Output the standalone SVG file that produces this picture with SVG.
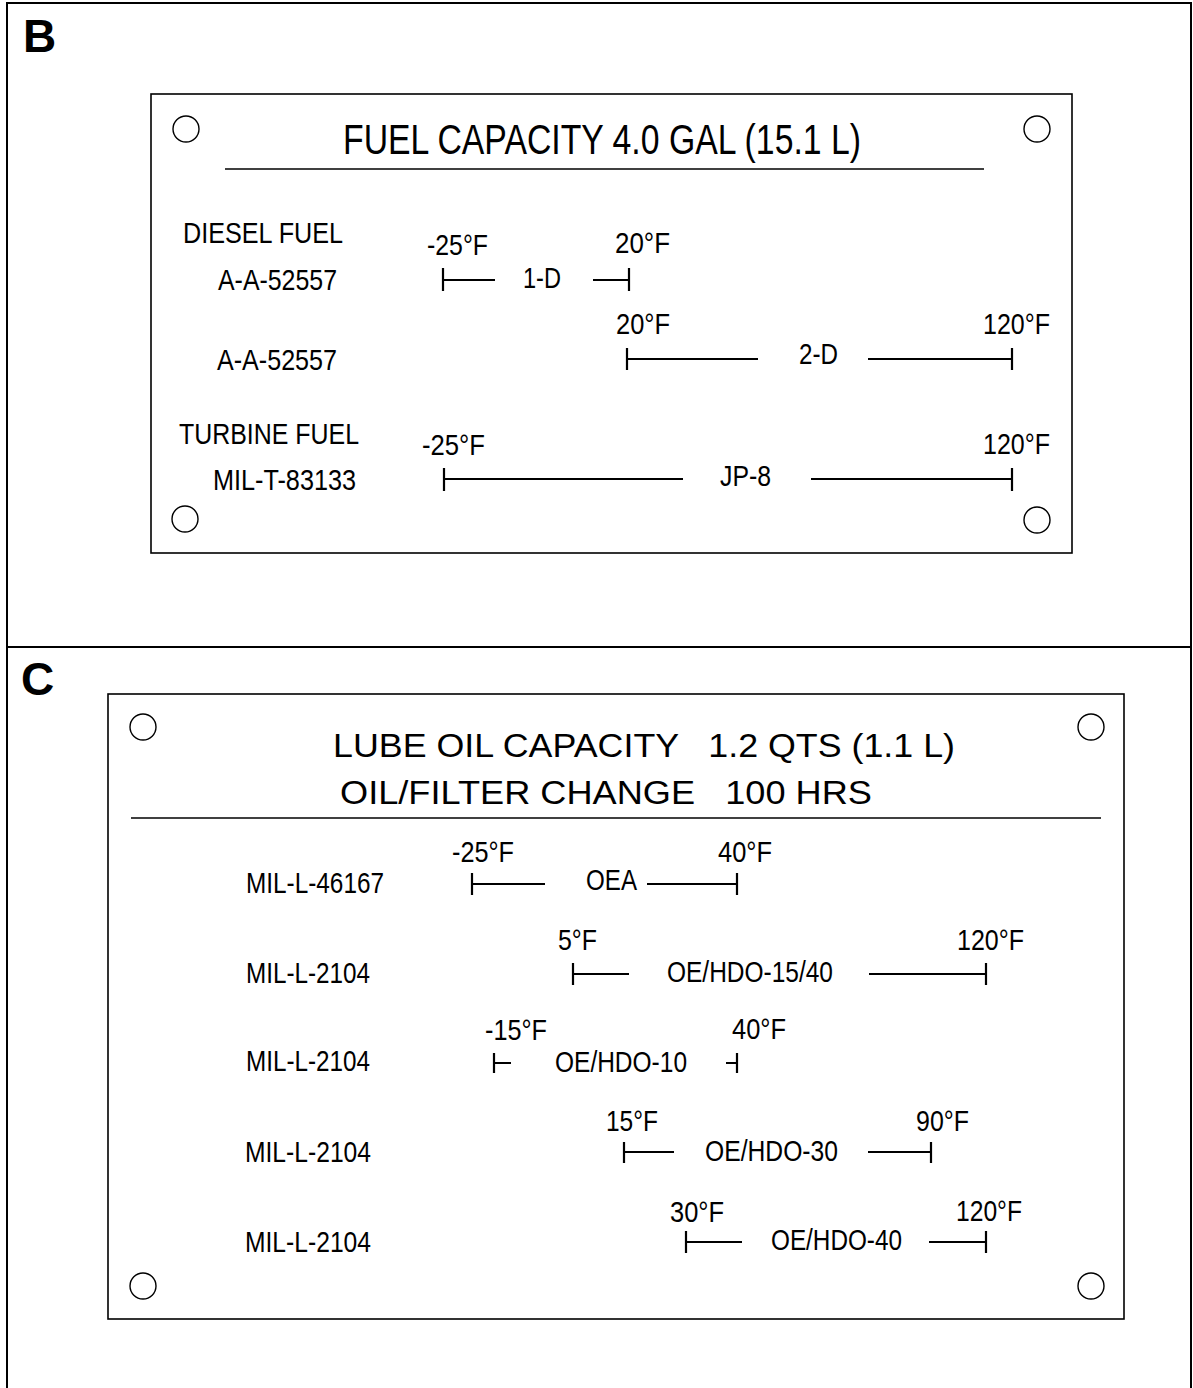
<svg xmlns="http://www.w3.org/2000/svg" width="1193" height="1388" viewBox="0 0 1193 1388">
<style>
text{font-family:"Liberation Sans",Arial,sans-serif;fill:#000;}
.lbl{font-size:29.5px;}
.ttl{font-size:43px;}
.ttl2{font-size:34px;}
.panel{font-size:46px;font-weight:bold;}
.frame{fill:none;stroke:#000;stroke-width:2;}
.plate{fill:#fff;stroke:#000;stroke-width:1.6;}
.hole{fill:none;stroke:#000;stroke-width:1.4;}
.rule{stroke:#000;stroke-width:1.5;}
.bar{stroke:#000;stroke-width:2.2;fill:none;}
</style>
<rect width="1193" height="1388" fill="#fff"/>
<g id="frame">
<path class="frame" d="M7,1388 V3 H1191 V1388"/>
<line class="frame" x1="7" y1="647" x2="1191" y2="647"/>
<text class="panel" x="23" y="52">B</text>
<text class="panel" x="21" y="695">C</text>
</g>
<g id="plate-B">
<rect class="plate" x="151" y="94" width="921" height="459"/>
<circle class="hole" cx="186" cy="129" r="13"/>
<circle class="hole" cx="1037" cy="129" r="13"/>
<circle class="hole" cx="185" cy="519" r="13"/>
<circle class="hole" cx="1037" cy="520" r="13"/>
<text class="ttl" x="343" y="154" textLength="518" lengthAdjust="spacingAndGlyphs">FUEL CAPACITY 4.0 GAL (15.1 L)</text>
<line class="rule" x1="225" y1="169" x2="984" y2="169"/>
<g id="row-1D">
<text class="lbl" x="183" y="243" textLength="160" lengthAdjust="spacingAndGlyphs">DIESEL FUEL</text>
<text class="lbl" x="218" y="290" textLength="119" lengthAdjust="spacingAndGlyphs">A-A-52557</text>
<text class="lbl" x="427" y="255" textLength="61" lengthAdjust="spacingAndGlyphs">-25°F</text>
<text class="lbl" x="615" y="253" textLength="55" lengthAdjust="spacingAndGlyphs">20°F</text>
<text class="lbl" x="523" y="288" textLength="38" lengthAdjust="spacingAndGlyphs">1-D</text>
</g>
<g id="row-2D">
<text class="lbl" x="217" y="370" textLength="120" lengthAdjust="spacingAndGlyphs">A-A-52557</text>
<text class="lbl" x="616" y="334" textLength="54" lengthAdjust="spacingAndGlyphs">20°F</text>
<text class="lbl" x="983" y="334" textLength="67" lengthAdjust="spacingAndGlyphs">120°F</text>
<text class="lbl" x="799" y="364" textLength="39" lengthAdjust="spacingAndGlyphs">2-D</text>
</g>
<g id="row-JP8">
<text class="lbl" x="179" y="444" textLength="180" lengthAdjust="spacingAndGlyphs">TURBINE FUEL</text>
<text class="lbl" x="213" y="490" textLength="143" lengthAdjust="spacingAndGlyphs">MIL-T-83133</text>
<text class="lbl" x="422" y="455" textLength="63" lengthAdjust="spacingAndGlyphs">-25°F</text>
<text class="lbl" x="983" y="454" textLength="67" lengthAdjust="spacingAndGlyphs">120°F</text>
<text class="lbl" x="720" y="486" textLength="51" lengthAdjust="spacingAndGlyphs">JP-8</text>
</g>
</g>
<g id="plate-C">
<rect class="plate" x="108" y="694" width="1016" height="625"/>
<circle class="hole" cx="143" cy="727" r="13"/>
<circle class="hole" cx="1091" cy="727" r="13"/>
<circle class="hole" cx="143" cy="1286" r="13"/>
<circle class="hole" cx="1091" cy="1286" r="13"/>
<text class="ttl2" x="333" y="757" textLength="622" lengthAdjust="spacingAndGlyphs" xml:space="preserve">LUBE OIL CAPACITY   1.2 QTS (1.1 L)</text>
<text class="ttl2" x="340" y="804" textLength="532" lengthAdjust="spacingAndGlyphs" xml:space="preserve">OIL/FILTER CHANGE   100 HRS</text>
<line class="rule" x1="131" y1="818" x2="1101" y2="818"/>
<g id="row-OEA">
<text class="lbl" x="246" y="893" textLength="138" lengthAdjust="spacingAndGlyphs">MIL-L-46167</text>
<text class="lbl" x="452" y="862" textLength="62" lengthAdjust="spacingAndGlyphs">-25°F</text>
<text class="lbl" x="586" y="890" textLength="51" lengthAdjust="spacingAndGlyphs">OEA</text>
<text class="lbl" x="718" y="862" textLength="54" lengthAdjust="spacingAndGlyphs">40°F</text>
</g>
<g id="row-1540">
<text class="lbl" x="246" y="983" textLength="124" lengthAdjust="spacingAndGlyphs">MIL-L-2104</text>
<text class="lbl" x="558" y="950" textLength="39" lengthAdjust="spacingAndGlyphs">5°F</text>
<text class="lbl" x="667" y="982" textLength="166" lengthAdjust="spacingAndGlyphs">OE/HDO-15/40</text>
<text class="lbl" x="957" y="950" textLength="67" lengthAdjust="spacingAndGlyphs">120°F</text>
</g>
<g id="row-10">
<text class="lbl" x="246" y="1071" textLength="124" lengthAdjust="spacingAndGlyphs">MIL-L-2104</text>
<text class="lbl" x="485" y="1040" textLength="62" lengthAdjust="spacingAndGlyphs">-15°F</text>
<text class="lbl" x="555" y="1072" textLength="132" lengthAdjust="spacingAndGlyphs">OE/HDO-10</text>
<text class="lbl" x="732" y="1039" textLength="54" lengthAdjust="spacingAndGlyphs">40°F</text>
</g>
<g id="row-30">
<text class="lbl" x="245" y="1162" textLength="126" lengthAdjust="spacingAndGlyphs">MIL-L-2104</text>
<text class="lbl" x="606" y="1131" textLength="52" lengthAdjust="spacingAndGlyphs">15°F</text>
<text class="lbl" x="705" y="1161" textLength="133" lengthAdjust="spacingAndGlyphs">OE/HDO-30</text>
<text class="lbl" x="916" y="1131" textLength="53" lengthAdjust="spacingAndGlyphs">90°F</text>
</g>
<g id="row-40">
<text class="lbl" x="245" y="1252" textLength="126" lengthAdjust="spacingAndGlyphs">MIL-L-2104</text>
<text class="lbl" x="670" y="1222" textLength="54" lengthAdjust="spacingAndGlyphs">30°F</text>
<text class="lbl" x="771" y="1250" textLength="131" lengthAdjust="spacingAndGlyphs">OE/HDO-40</text>
<text class="lbl" x="956" y="1221" textLength="66" lengthAdjust="spacingAndGlyphs">120°F</text>
</g>
</g>
<g id="connectors">
<path class="bar" d="M443,268 V291 M443,280 H495 M593,280 H629 M629,268 V291"/>
<path class="bar" d="M627,348 V370 M627,359 H758 M868,359 H1012 M1012,348 V370"/>
<path class="bar" d="M444,468 V491 M444,479 H683 M811,479 H1012 M1012,468 V491"/>
<path class="bar" d="M472,873 V895 M472,884 H545 M647,884 H737 M737,873 V895"/>
<path class="bar" d="M573,963 V985 M573,974 H629 M869,974 H986 M986,963 V985"/>
<path class="bar" d="M494,1053 V1073 M494,1063 H511 M726,1063 H737 M737,1053 V1073"/>
<path class="bar" d="M624,1142 V1163 M624,1152 H674 M868,1152 H931 M931,1142 V1163"/>
<path class="bar" d="M686,1231 V1253 M686,1242 H742 M929,1242 H986 M986,1231 V1253"/>
</g>
</svg>
